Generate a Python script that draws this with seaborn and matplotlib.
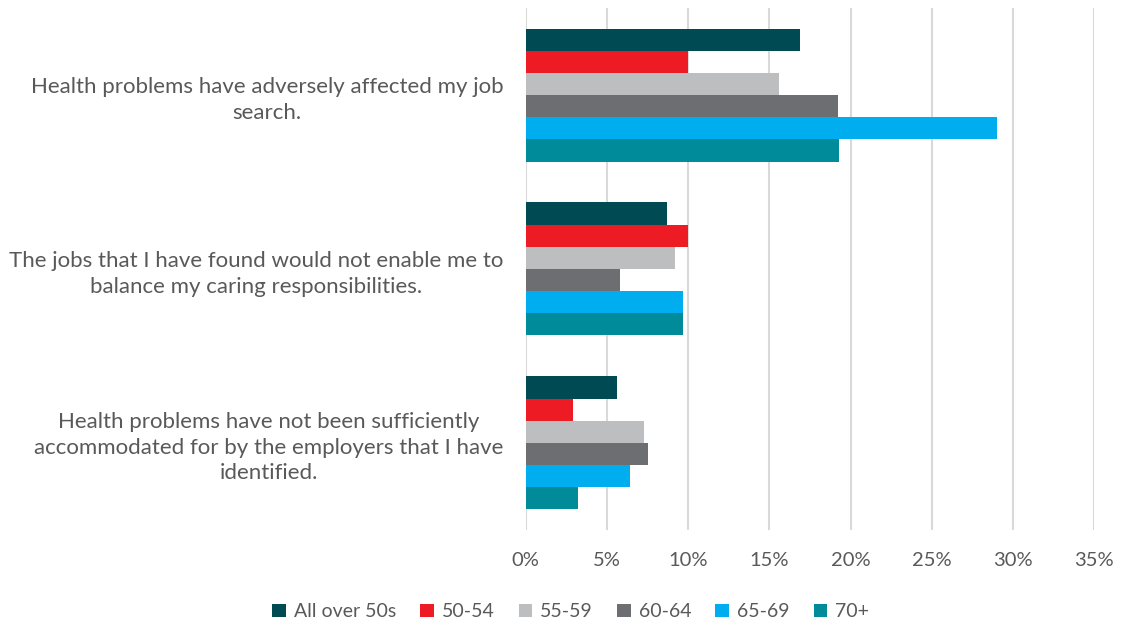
import matplotlib
matplotlib.use("Agg")
import matplotlib.pyplot as plt
from matplotlib.patches import Patch
from matplotlib.ticker import PercentFormatter
import seaborn as sns
import pandas as pd

# Survey statements (y categories)
statements = [
    "Health problems have adversely affected my job\nsearch.",
    "The jobs that I have found would not enable me to\nbalance my caring responsibilities.",
    "Health problems have not been sufficiently\naccommodated for by the employers that I have\nidentified.",
]

# Age groups (hue)
groups = ["All over 50s", "50-54", "55-59", "60-64", "65-69", "70+"]

# Share of respondents (%) per statement, one list per age group
all_over_50s = [16.9, 8.7, 5.6]
age_50_54 = [10.0, 10.0, 2.9]
age_55_59 = [15.6, 9.2, 7.3]
age_60_64 = [19.2, 5.8, 7.5]
age_65_69 = [29.0, 9.7, 6.4]
age_70_plus = [19.3, 9.7, 3.2]

colors = ["#004B53", "#ED1C24", "#BDBEC0", "#6D6E71", "#00ADEE", "#008B9A"]

series = [all_over_50s, age_50_54, age_55_59, age_60_64, age_65_69, age_70_plus]
rows = []
for g, vals in zip(groups, series):
    for s, v in zip(statements, vals):
        rows.append({"statement": s, "group": g, "value": v})
df = pd.DataFrame(rows)

sns.set_theme(style="white")
plt.rcParams["font.family"] = ["Lato", "DejaVu Sans"]
text_color = "#595959"

fig = plt.figure(figsize=(11.21, 6.27), dpi=100)
ax = fig.add_axes([0.469, 0.155, 0.507, 0.832])

sns.barplot(
    data=df, y="statement", x="value", hue="group",
    order=statements, hue_order=groups, palette=colors,
    orient="h", width=0.765, linewidth=0, saturation=1,
    legend=False, ax=ax,
)

ax.set_xlim(0, 35)
ax.set_xticks(range(0, 36, 5))
ax.xaxis.set_major_formatter(PercentFormatter(decimals=0))
ax.grid(axis="x", color="#D9D9D9", linewidth=1.5)
ax.set_axisbelow(True)
for sp in ax.spines.values():
    sp.set_visible(False)
ax.set_xlabel("")
ax.set_ylabel("")
ax.tick_params(axis="x", colors=text_color, labelsize=14.5, pad=16, length=0)
ax.tick_params(axis="y", colors=text_color, labelsize=16, pad=16, length=0)
for lbl in ax.get_yticklabels():
    lbl.set_multialignment("center")
    lbl.set_linespacing(1.35)

handles = [Patch(facecolor=c, edgecolor="none") for c in colors]
fig.legend(
    handles, groups, loc="center", bbox_to_anchor=(0.509, 0.024), ncol=6,
    frameon=False, fontsize=14, handlelength=0.7, handleheight=0.7,
    handletextpad=0.4, columnspacing=1.25, labelcolor=text_color,
)

fig.savefig("out.png", dpi=100, facecolor="white")
